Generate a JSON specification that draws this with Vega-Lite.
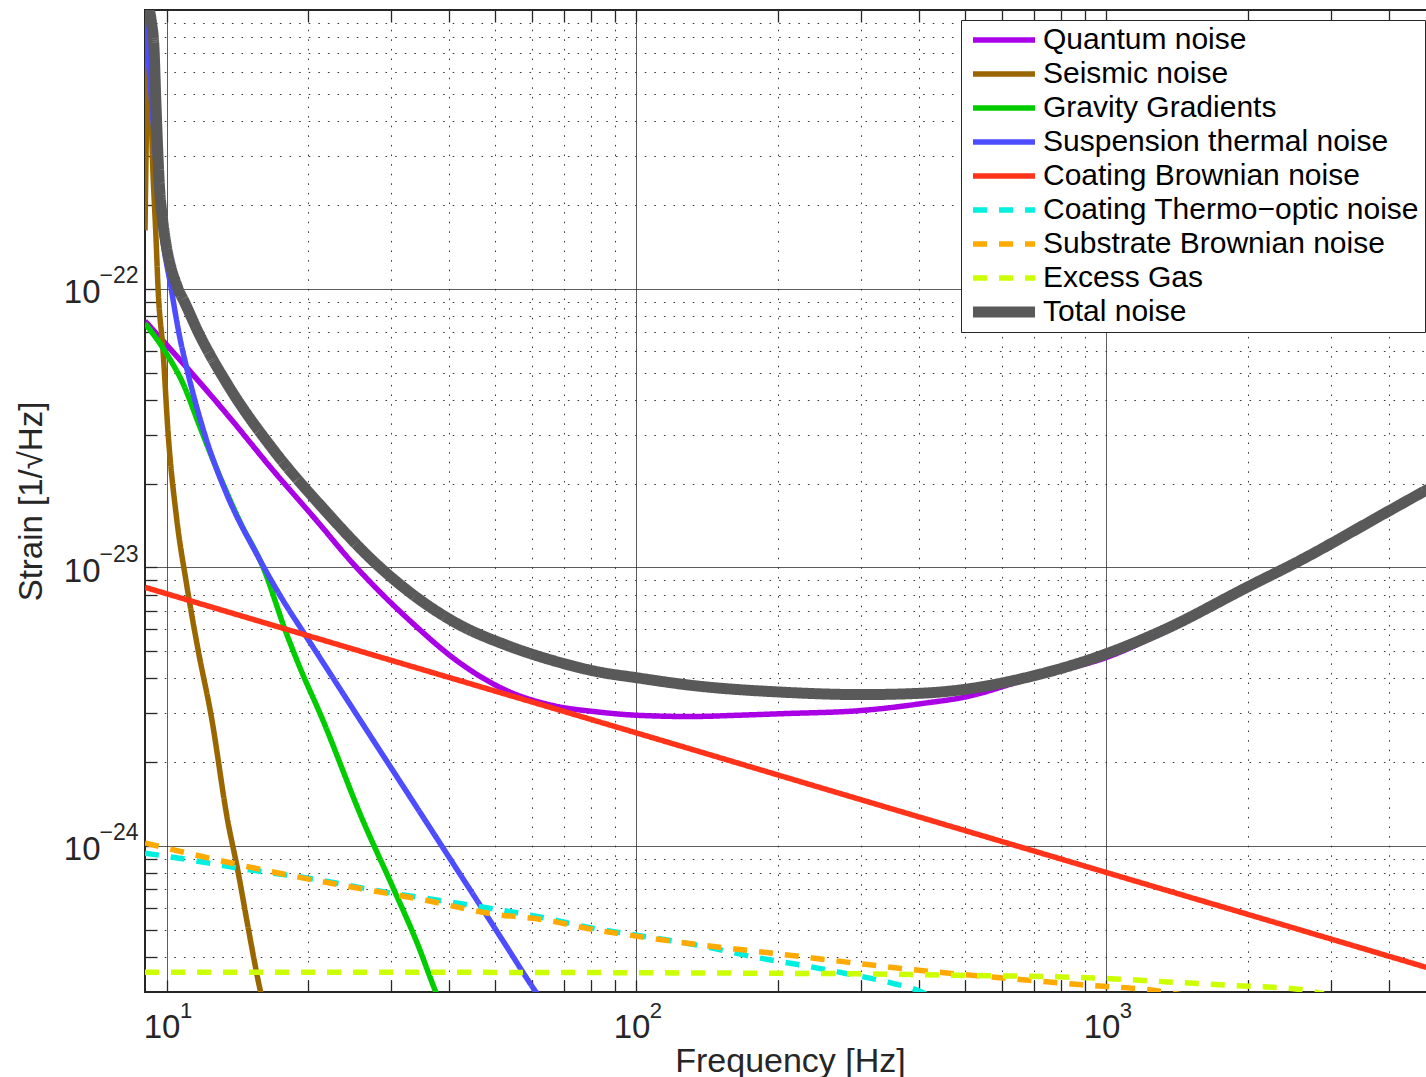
{
  "$schema": "https://vega.github.io/schema/vega-lite/v6.json",
  "width": 1290,
  "height": 982,
  "autosize": {"type": "none"},
  "padding": {"left": 145, "top": 10, "right": -9, "bottom": 85},
  "background": "white",
  "config": {
    "font": "Liberation Sans",
    "view": {"stroke": "#262626", "strokeWidth": 2},
    "axis": {"labelFont": "Liberation Sans", "titleFont": "Liberation Sans", "labelColor": "#262626", "titleColor": "#262626", "titleFontWeight": "normal", "labelOverlap": false, "labelFlush": false, "tickColor": "#262626", "tickWidth": 1.3},
    "legend": {
      "orient": "none", "legendX": 816, "legendY": 10,
      "fillColor": "white", "strokeColor": "#262626", "padding": 5,
      "symbolType": "M-6,0H6", "symbolSize": 106.7, "symbolOffset": 23,
      "labelFontSize": 30, "labelFont": "Liberation Sans", "labelColor": "black",
      "labelOffset": 24, "labelLimit": 700, "rowPadding": 4
    }
  },
  "data": {"values": [
    {"s": "Quantum noise", "f": 9.0, "h": 7.66e-23},
    {"s": "Quantum noise", "f": 11.03, "h": 5.23e-23},
    {"s": "Quantum noise", "f": 13.42, "h": 3.56e-23},
    {"s": "Quantum noise", "f": 16.86, "h": 2.23e-23},
    {"s": "Quantum noise", "f": 20.85, "h": 1.475e-23},
    {"s": "Quantum noise", "f": 24.95, "h": 1.032e-23},
    {"s": "Quantum noise", "f": 33.47, "h": 6.29e-24},
    {"s": "Quantum noise", "f": 41.4, "h": 4.64e-24},
    {"s": "Quantum noise", "f": 52.9, "h": 3.62e-24},
    {"s": "Quantum noise", "f": 66.35, "h": 3.2e-24},
    {"s": "Quantum noise", "f": 83.13, "h": 3.03e-24},
    {"s": "Quantum noise", "f": 100.4, "h": 2.95e-24},
    {"s": "Quantum noise", "f": 130.5, "h": 2.92e-24},
    {"s": "Quantum noise", "f": 163.5, "h": 2.95e-24},
    {"s": "Quantum noise", "f": 204.8, "h": 2.99e-24},
    {"s": "Quantum noise", "f": 301.6, "h": 3.07e-24},
    {"s": "Quantum noise", "f": 404.6, "h": 3.25e-24},
    {"s": "Quantum noise", "f": 508.2, "h": 3.45e-24},
    {"s": "Quantum noise", "f": 666.8, "h": 3.94e-24},
    {"s": "Quantum noise", "f": 799.2, "h": 4.27e-24},
    {"s": "Quantum noise", "f": 1001, "h": 4.76e-24},
    {"s": "Quantum noise", "f": 1318, "h": 5.85e-24},
    {"s": "Quantum noise", "f": 2028, "h": 8.48e-24},
    {"s": "Quantum noise", "f": 2541, "h": 1.03e-23},
    {"s": "Quantum noise", "f": 4007, "h": 1.576e-23},
    {"s": "Quantum noise", "f": 5000, "h": 1.94e-23},

    {"s": "Seismic noise", "f": 9.0, "h": 1.62e-22},
    {"s": "Seismic noise", "f": 9.17, "h": 7.77e-22},
    {"s": "Seismic noise", "f": 9.36, "h": 2.59e-22},
    {"s": "Seismic noise", "f": 9.49, "h": 1.58e-22},
    {"s": "Seismic noise", "f": 9.6, "h": 9.86e-23},
    {"s": "Seismic noise", "f": 9.83, "h": 6.01e-23},
    {"s": "Seismic noise", "f": 10.08, "h": 3.02e-23},
    {"s": "Seismic noise", "f": 10.5, "h": 1.517e-23},
    {"s": "Seismic noise", "f": 11.03, "h": 8.74e-24},
    {"s": "Seismic noise", "f": 11.68, "h": 5.04e-24},
    {"s": "Seismic noise", "f": 12.46, "h": 2.91e-24},
    {"s": "Seismic noise", "f": 13.49, "h": 1.239e-24},
    {"s": "Seismic noise", "f": 14.18, "h": 8.19e-25},
    {"s": "Seismic noise", "f": 14.91, "h": 5.13e-25},
    {"s": "Seismic noise", "f": 15.83, "h": 3.04e-25},
    {"s": "Seismic noise", "f": 16.5, "h": 2.3e-25},

    {"s": "Gravity Gradients", "f": 9.0, "h": 7.51e-23},
    {"s": "Gravity Gradients", "f": 10.0, "h": 5.85e-23},
    {"s": "Gravity Gradients", "f": 10.85, "h": 4.56e-23},
    {"s": "Gravity Gradients", "f": 11.78, "h": 3.19e-23},
    {"s": "Gravity Gradients", "f": 12.99, "h": 2.12e-23},
    {"s": "Gravity Gradients", "f": 14.32, "h": 1.463e-23},
    {"s": "Gravity Gradients", "f": 16.05, "h": 1.002e-23},
    {"s": "Gravity Gradients", "f": 18.0, "h": 5.79e-24},
    {"s": "Gravity Gradients", "f": 19.21, "h": 4.39e-24},
    {"s": "Gravity Gradients", "f": 21.37, "h": 2.91e-24},
    {"s": "Gravity Gradients", "f": 26.16, "h": 1.239e-24},
    {"s": "Gravity Gradients", "f": 30.3, "h": 7.14e-25},
    {"s": "Gravity Gradients", "f": 34.19, "h": 4.47e-25},
    {"s": "Gravity Gradients", "f": 37.41, "h": 3.0e-25},
    {"s": "Gravity Gradients", "f": 40.0, "h": 2.3e-25},

    {"s": "Suspension thermal noise", "f": 9.0, "h": 9.56e-22},
    {"s": "Suspension thermal noise", "f": 9.33, "h": 4.29e-22},
    {"s": "Suspension thermal noise", "f": 9.68, "h": 1.862e-22},
    {"s": "Suspension thermal noise", "f": 10.25, "h": 9.86e-23},
    {"s": "Suspension thermal noise", "f": 10.67, "h": 6.7e-23},
    {"s": "Suspension thermal noise", "f": 11.03, "h": 5.23e-23},
    {"s": "Suspension thermal noise", "f": 12.17, "h": 2.86e-23},
    {"s": "Suspension thermal noise", "f": 13.42, "h": 1.839e-23},
    {"s": "Suspension thermal noise", "f": 15.54, "h": 1.121e-23},
    {"s": "Suspension thermal noise", "f": 17.7, "h": 7.62e-24},
    {"s": "Suspension thermal noise", "f": 19.86, "h": 5.63e-24},
    {"s": "Suspension thermal noise", "f": 22.62, "h": 4.01e-24},
    {"s": "Suspension thermal noise", "f": 25.37, "h": 2.97e-24},
    {"s": "Suspension thermal noise", "f": 34.85, "h": 1.301e-24},
    {"s": "Suspension thermal noise", "f": 40.11, "h": 9.02e-25},
    {"s": "Suspension thermal noise", "f": 47.08, "h": 5.94e-25},
    {"s": "Suspension thermal noise", "f": 53.05, "h": 4.34e-25},
    {"s": "Suspension thermal noise", "f": 61.03, "h": 3.01e-25},
    {"s": "Suspension thermal noise", "f": 65.0, "h": 2.6e-25},

    {"s": "Coating Brownian noise", "f": 9.0, "h": 8.49e-24},
    {"s": "Coating Brownian noise", "f": 30, "h": 4.65e-24},
    {"s": "Coating Brownian noise", "f": 100, "h": 2.55e-24},
    {"s": "Coating Brownian noise", "f": 300, "h": 1.47e-24},
    {"s": "Coating Brownian noise", "f": 1000, "h": 8.05e-25},
    {"s": "Coating Brownian noise", "f": 3000, "h": 4.65e-25},
    {"s": "Coating Brownian noise", "f": 5000, "h": 3.6e-25},

    {"s": "Coating Thermo−optic noise", "f": 9.0, "h": 9.45e-25},
    {"s": "Coating Thermo−optic noise", "f": 11.38, "h": 8.9e-25},
    {"s": "Coating Thermo−optic noise", "f": 14.46, "h": 8.31e-25},
    {"s": "Coating Thermo−optic noise", "f": 20.32, "h": 7.65e-25},
    {"s": "Coating Thermo−optic noise", "f": 29.14, "h": 6.85e-25},
    {"s": "Coating Thermo−optic noise", "f": 40.07, "h": 6.31e-25},
    {"s": "Coating Thermo−optic noise", "f": 50.93, "h": 5.92e-25},
    {"s": "Coating Thermo−optic noise", "f": 64.76, "h": 5.5e-25},
    {"s": "Coating Thermo−optic noise", "f": 79.15, "h": 5.11e-25},
    {"s": "Coating Thermo−optic noise", "f": 100.6, "h": 4.79e-25},
    {"s": "Coating Thermo−optic noise", "f": 138.4, "h": 4.38e-25},
    {"s": "Coating Thermo−optic noise", "f": 177.3, "h": 4.01e-25},
    {"s": "Coating Thermo−optic noise", "f": 225.5, "h": 3.74e-25},
    {"s": "Coating Thermo−optic noise", "f": 280.6, "h": 3.49e-25},
    {"s": "Coating Thermo−optic noise", "f": 349.3, "h": 3.23e-25},
    {"s": "Coating Thermo−optic noise", "f": 400.7, "h": 3.02e-25},
    {"s": "Coating Thermo−optic noise", "f": 430, "h": 2.85e-25},

    {"s": "Substrate Brownian noise", "f": 9.0, "h": 1.027e-24},
    {"s": "Substrate Brownian noise", "f": 11.38, "h": 9.35e-25},
    {"s": "Substrate Brownian noise", "f": 15.98, "h": 8.24e-25},
    {"s": "Substrate Brownian noise", "f": 20.32, "h": 7.59e-25},
    {"s": "Substrate Brownian noise", "f": 25.83, "h": 7.05e-25},
    {"s": "Substrate Brownian noise", "f": 35.56, "h": 6.4e-25},
    {"s": "Substrate Brownian noise", "f": 48.98, "h": 5.73e-25},
    {"s": "Substrate Brownian noise", "f": 64.76, "h": 5.42e-25},
    {"s": "Substrate Brownian noise", "f": 79.15, "h": 5.06e-25},
    {"s": "Substrate Brownian noise", "f": 100.6, "h": 4.75e-25},
    {"s": "Substrate Brownian noise", "f": 139.4, "h": 4.41e-25},
    {"s": "Substrate Brownian noise", "f": 197.8, "h": 4.12e-25},
    {"s": "Substrate Brownian noise", "f": 280.6, "h": 3.84e-25},
    {"s": "Substrate Brownian noise", "f": 398.3, "h": 3.59e-25},
    {"s": "Substrate Brownian noise", "f": 564.6, "h": 3.4e-25},
    {"s": "Substrate Brownian noise", "f": 875.1, "h": 3.19e-25},
    {"s": "Substrate Brownian noise", "f": 1299, "h": 3.02e-25},
    {"s": "Substrate Brownian noise", "f": 1500, "h": 2.9e-25},

    {"s": "Excess Gas", "f": 9.0, "h": 3.53e-25},
    {"s": "Excess Gas", "f": 31.4, "h": 3.53e-25},
    {"s": "Excess Gas", "f": 136.4, "h": 3.51e-25},
    {"s": "Excess Gas", "f": 327.1, "h": 3.48e-25},
    {"s": "Excess Gas", "f": 506.9, "h": 3.44e-25},
    {"s": "Excess Gas", "f": 784.2, "h": 3.4e-25},
    {"s": "Excess Gas", "f": 1020, "h": 3.35e-25},
    {"s": "Excess Gas", "f": 1356, "h": 3.26e-25},
    {"s": "Excess Gas", "f": 1839, "h": 3.17e-25},
    {"s": "Excess Gas", "f": 2553, "h": 3.07e-25},
    {"s": "Excess Gas", "f": 2900, "h": 2.95e-25},

    {"s": "Total noise", "f": 9.0, "h": 9.64e-22},
    {"s": "Total noise", "f": 9.17, "h": 9.96e-22},
    {"s": "Total noise", "f": 9.29, "h": 9.02e-22},
    {"s": "Total noise", "f": 9.41, "h": 7.16e-22},
    {"s": "Total noise", "f": 9.49, "h": 4.74e-22},
    {"s": "Total noise", "f": 9.71, "h": 2.07e-22},
    {"s": "Total noise", "f": 10.58, "h": 1.0e-22},
    {"s": "Total noise", "f": 10.88, "h": 9.08e-23},
    {"s": "Total noise", "f": 11.72, "h": 6.91e-23},
    {"s": "Total noise", "f": 13.46, "h": 4.56e-23},
    {"s": "Total noise", "f": 16.92, "h": 2.63e-23},
    {"s": "Total noise", "f": 21.43, "h": 1.646e-23},
    {"s": "Total noise", "f": 28.43, "h": 1.003e-23},
    {"s": "Total noise", "f": 41.56, "h": 6.29e-24},
    {"s": "Total noise", "f": 52.97, "h": 5.26e-24},
    {"s": "Total noise", "f": 66.35, "h": 4.64e-24},
    {"s": "Total noise", "f": 83.13, "h": 4.22e-24},
    {"s": "Total noise", "f": 100.4, "h": 4.02e-24},
    {"s": "Total noise", "f": 130.5, "h": 3.78e-24},
    {"s": "Total noise", "f": 204.8, "h": 3.57e-24},
    {"s": "Total noise", "f": 301.6, "h": 3.5e-24},
    {"s": "Total noise", "f": 404.6, "h": 3.54e-24},
    {"s": "Total noise", "f": 508.2, "h": 3.67e-24},
    {"s": "Total noise", "f": 666.8, "h": 4.01e-24},
    {"s": "Total noise", "f": 1001, "h": 4.91e-24},
    {"s": "Total noise", "f": 1318, "h": 5.95e-24},
    {"s": "Total noise", "f": 2028, "h": 8.63e-24},
    {"s": "Total noise", "f": 2541, "h": 1.045e-23},
    {"s": "Total noise", "f": 4007, "h": 1.602e-23},
    {"s": "Total noise", "f": 4779, "h": 1.89e-23},
    {"s": "Total noise", "f": 5000, "h": 1.97e-23}
  ]},
  "layer": [
    {
      "mark": {"type": "line", "clip": true, "strokeCap": "butt", "strokeJoin": "round", "interpolate": "monotone"},
      "encoding": {
        "x": {
          "field": "f", "type": "quantitative",
          "scale": {"type": "log", "domain": [9, 5000], "nice": false},
          "axis": {
            "orient": "bottom",
            "values": [10, 20, 30, 40, 50, 60, 70, 80, 90, 100, 200, 300, 400, 500, 600, 700, 800, 900, 1000, 2000, 3000, 4000],
            "labelExpr": "indexof([10, 100, 1000], datum.value) >= 0 ? '10' : ''",
            "labelFontSize": 33, "labelOffset": -5, "labelPadding": 57, "labelBaseline": "alphabetic", "labelAlign": "center",
            "tickSize": -12, "domain": false,
            "grid": true,
            "gridColor": {"condition": {"test": "indexof([10, 100, 1000], datum.value) >= 0", "value": "#262626"}, "value": "#3a3a3a"},
            "gridDash": {"condition": {"test": "indexof([10, 100, 1000], datum.value) >= 0", "value": [1, 0]}, "value": [1.6, 8]},
            "gridWidth": 1,
            "title": "Frequency [Hz]", "titleFontSize": 34, "titlePadding": 0
          }
        },
        "y": {
          "field": "h", "type": "quantitative",
          "scale": {"type": "log", "domain": [3e-25, 1e-21], "nice": false},
          "axis": {
            "orient": "left",
            "values": [4e-25, 5e-25, 6e-25, 7e-25, 8e-25, 9e-25, 1e-24, 2e-24, 3e-24, 4e-24, 5e-24, 6e-24, 7e-24, 8e-24, 9e-24, 1e-23, 2e-23, 3e-23, 4e-23, 5e-23, 6e-23, 7e-23, 8e-23, 9e-23, 1e-22, 2e-22, 3e-22, 4e-22, 5e-22, 6e-22, 7e-22, 8e-22, 9e-22],
            "labelExpr": "indexof([1e-24, 1e-23, 1e-22], datum.value) >= 0 ? '10' : ''",
            "labelFontSize": 33, "labelOffset": 13.7, "labelPadding": 57, "labelBaseline": "alphabetic", "labelAlign": "right",
            "tickSize": -12, "domain": false,
            "grid": true,
            "gridColor": {"condition": {"test": "indexof([1e-24, 1e-23, 1e-22], datum.value) >= 0", "value": "#262626"}, "value": "#3a3a3a"},
            "gridDash": {"condition": {"test": "indexof([1e-24, 1e-23, 1e-22], datum.value) >= 0", "value": [1, 0]}, "value": [1.6, 8]},
            "gridWidth": 1,
            "title": "Strain [1/√Hz]", "titleFontSize": 33, "titlePadding": 15
          }
        },
        "color": {
          "field": "s", "type": "nominal", "title": null,
          "scale": {
            "domain": ["Quantum noise", "Seismic noise", "Gravity Gradients", "Suspension thermal noise", "Coating Brownian noise", "Coating Thermo−optic noise", "Substrate Brownian noise", "Excess Gas", "Total noise"],
            "range": ["#aa00e6", "#996600", "#00cc00", "#4d4dff", "#ff331a", "#00f0e0", "#ffaa00", "#ccff00", "#595959"]
          },
          "legend": {"encode": {"symbols": {"update": {"strokeJoin": {"value": "round"}}}}}
        },
        "strokeDash": {
          "field": "s", "type": "nominal", "title": null,
          "scale": {
            "domain": ["Quantum noise", "Seismic noise", "Gravity Gradients", "Suspension thermal noise", "Coating Brownian noise", "Coating Thermo−optic noise", "Substrate Brownian noise", "Excess Gas", "Total noise"],
            "range": [[1, 0], [1, 0], [1, 0], [1, 0], [1, 0], [14, 12], [14, 12], [14, 12], [1, 0]]
          }
        },
        "strokeWidth": {
          "field": "s", "type": "ordinal", "title": null,
          "scale": {
            "type": "ordinal",
            "domain": ["Quantum noise", "Seismic noise", "Gravity Gradients", "Suspension thermal noise", "Coating Brownian noise", "Coating Thermo−optic noise", "Substrate Brownian noise", "Excess Gas", "Total noise"],
            "range": [5.5, 5.5, 5.5, 5.5, 5.5, 5.5, 5.5, 5.5, 11]
          }
        }
      }
    },
    {
      "mark": {"type": "line", "opacity": 0},
      "encoding": {
        "x": {
          "field": "f", "type": "quantitative",
          "axis": {
            "orient": "bottom", "values": [10, 100, 1000],
            "labelExpr": "format(log(datum.value) / LN10, '.0f')",
            "labelFontSize": 22, "labelOffset": 19, "labelPadding": 25, "labelBaseline": "alphabetic", "labelAlign": "center",
            "ticks": false, "tickSize": 0, "domain": false, "grid": false, "title": null
          }
        },
        "y": {
          "field": "h", "type": "quantitative",
          "axis": {
            "orient": "left", "values": [1e-24, 1e-23, 1e-22],
            "labelExpr": "'\u2212' + format(-log(datum.value) / LN10, '.0f')",
            "labelFontSize": 23, "labelOffset": -6.3, "labelPadding": 7, "labelBaseline": "alphabetic", "labelAlign": "right",
            "ticks": false, "tickSize": 0, "domain": false, "grid": false, "title": null
          }
        },
        "detail": {"field": "s", "type": "nominal"}
      }
    },
    {
      "mark": {"type": "line", "opacity": 0},
      "encoding": {
        "x": {
          "field": "f", "type": "quantitative",
          "axis": {
            "orient": "top",
            "values": [10, 20, 30, 40, 50, 60, 70, 80, 90, 100, 200, 300, 400, 500, 600, 700, 800, 900, 1000, 2000, 3000, 4000],
            "labels": false, "tickSize": -12, "domain": false, "grid": false, "title": null
          }
        },
        "y": {"field": "h", "type": "quantitative", "axis": null},
        "detail": {"field": "s", "type": "nominal"}
      }
    }
  ],
  "resolve": {"axis": {"x": "independent", "y": "independent"}}
}
